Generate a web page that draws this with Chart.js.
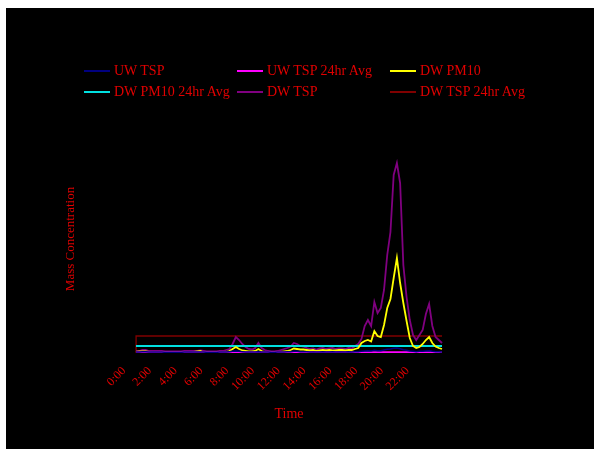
<!DOCTYPE html>
<html>
<head>
<meta charset="utf-8">
<script src="https://cdn.jsdelivr.net/npm/chart.js@4.4.0/dist/chart.umd.min.js"></script>
<style>
  body { margin: 0; background: #fff; }
  #wrap { position: absolute; left: 6px; top: 8px; width: 588px; height: 441px; background: #000; }
  #chart { position: absolute; left: 0; top: 0; }
  #legend {
    position: absolute; left: 78px; top: 54px;
    display: grid; grid-template-columns: repeat(3, 153px); row-gap: 3px;
    font: 14px "Liberation Serif", serif; color: #e00000;
  }
  .item { display: flex; align-items: center; height: 18px; white-space: nowrap; }
  .swatch { width: 26px; height: 0; border-top: 2px solid; margin-right: 4px; }
</style>
</head>
<body>
<div id="wrap">
  <canvas id="chart" width="588" height="441"></canvas>
  <div id="legend"></div>
</div>
<script>
// 15-minute readings over one day
const tickLabels = ['0:00', '2:00', '4:00', '6:00', '8:00', '10:00', '12:00', '14:00', '16:00', '18:00', '20:00', '22:00'];

const uwTsp = [
  3, 3, 4, 4, 3, 3, 3, 3, 3, 2, 2, 2, 2, 2, 2, 3,
  3, 3, 3, 3, 3, 3, 2, 2, 2, 2, 3, 3, 3, 4, 5, 6,
  5, 4, 3, 3, 3, 3, 4, 3, 3, 3, 2, 2, 3, 3, 3, 4,
  4, 5, 5, 4, 4, 4, 3, 3, 3, 3, 4, 3, 3, 4, 3, 3,
  3, 3, 4, 3, 4, 4, 5, 6, 7, 6, 8, 7, 7, 9, 11, 12,
  14, 15, 13, 10, 8, 6, 5, 4, 5, 5, 6, 7, 5, 4, 4, 3
];
const dwPm10 = [
  3, 4.5, 4.5, 4.5, 3, 1.5, 1.5, 1.5, 1.5, 1.5, 1.5, 1.5, 1.5, 1.5, 1.5, 1.5,
  1.5, 1.5, 3, 4.5, 6, 1.5, 1.5, 1.5, 1.5, 1.5, 1.5, 1.5, 3, 6, 12, 18,
  12, 7.5, 6, 4.5, 4.5, 6, 12, 6, 3, 1.5, 1.5, 1.5, 1.5, 3, 4.5, 6,
  9, 13.5, 12, 10.5, 10.5, 9, 7.5, 9, 6, 7.5, 9, 7.5, 9, 7.5, 7.5, 9,
  9, 7.5, 9, 9, 12, 15, 30, 36, 39, 34.5, 66, 51, 48, 84, 135, 162,
  225, 285, 210, 150, 96, 45, 21, 15, 18, 27, 39, 48, 30, 19.5, 15, 12
];
const dwTsp = [
  6, 6, 9, 9, 6, 6, 6, 6, 6, 4.5, 4.5, 4.5, 4.5, 4.5, 4.5, 6,
  6, 6, 6, 6, 7.5, 6, 4.5, 4.5, 4.5, 4.5, 6, 6, 9, 12, 27, 48,
  39, 27, 18, 12, 10.5, 15, 30, 15, 9, 6, 4.5, 4.5, 6, 9, 12, 15,
  19.5, 30, 27, 21, 19.5, 15, 12, 13.5, 10.5, 13.5, 15, 12, 13.5, 15, 12, 13.5,
  13.5, 12, 15, 13.5, 21, 27, 42, 81, 99, 81, 153, 120, 135, 189, 294, 363,
  534, 570, 510, 264, 168, 99, 54, 39, 54, 69, 117, 147, 81, 48, 39, 30
];

// 24 hour averages (flat lines)
const uwTsp24hAvg = 1.5;
const dwPm10Avg = 21;
const dwTsp24hAvg = 51;

const times = dwTsp.map((v, i) => Math.floor(i / 4) + ':' + String((i % 4) * 15).padStart(2, '0'));
const flat = v => times.map(() => v);
const dwTspAvgLine = flat(dwTsp24hAvg);
dwTspAvgLine[0] = 0;

const red = '#e00000';
const serif = '"Liberation Serif", serif';

const chart = new Chart(document.getElementById('chart'), {
  type: 'line',
  data: {
    labels: times,
    datasets: [
      { label: 'UW TSP', data: uwTsp, borderColor: '#000080', borderWidth: 1.5 },
      { label: 'UW TSP 24hr Avg', data: flat(uwTsp24hAvg), borderColor: '#ff00ff', borderWidth: 2.5 },
      { label: 'DW PM10', data: dwPm10, borderColor: '#ffff00', borderWidth: 1.8 },
      { label: 'DW PM10 24hr Avg', data: flat(dwPm10Avg), borderColor: '#00e0e0', borderWidth: 2 },
      { label: 'DW TSP', data: dwTsp, borderColor: '#800080', borderWidth: 1.8 },
      { label: 'DW TSP 24hr Avg', data: dwTspAvgLine, borderColor: '#800000', borderWidth: 1.5, stepped: 'after' }
    ]
  },
  options: {
    responsive: false,
    animation: false,
    elements: { point: { radius: 0 }, line: { tension: 0 } },
    layout: { padding: { left: 53, right: 152, top: 117, bottom: 22 } },
    plugins: { legend: { display: false }, tooltip: { enabled: false } },
    scales: {
      x: {
        grid: { display: false },
        border: { display: false },
        ticks: {
          autoSkip: false, minRotation: 45, maxRotation: 45, labelOffset: -12,
          color: red, font: { family: serif, size: 12 },
          callback: (v, i) => i % 8 === 0 ? tickLabels[i / 8] : ''
        },
        title: { display: true, text: 'Time', color: red, font: { family: serif, size: 14 } },
        afterFit: s => { s.height = 74; }
      },
      y: {
        min: 0, max: 684,
        grid: { display: false },
        border: { display: false },
        ticks: { color: '#000', font: { family: serif, size: 12 } },
        title: { display: true, text: 'Mass Concentration', color: red, font: { family: serif, size: 13 } },
        afterFit: s => { s.width = 77; }
      }
    }
  }
});

// legend in three columns, built from the datasets
const legend = document.getElementById('legend');
chart.data.datasets.forEach(ds => {
  const item = document.createElement('div');
  item.className = 'item';
  const sw = document.createElement('span');
  sw.className = 'swatch';
  sw.style.borderColor = ds.borderColor;
  item.appendChild(sw);
  item.appendChild(document.createTextNode(ds.label));
  legend.appendChild(item);
});
</script>
</body>
</html>
